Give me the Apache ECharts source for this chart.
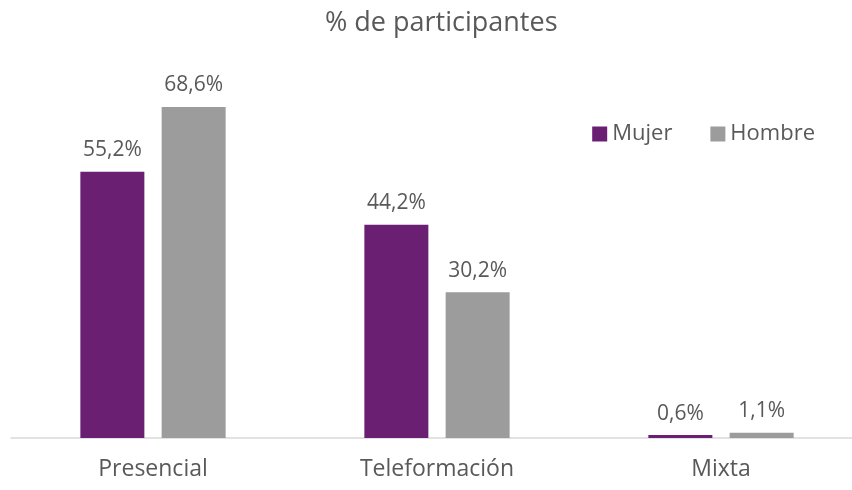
<!DOCTYPE html>
<html>
<head>
<meta charset="utf-8">
<script src="https://cdn.jsdelivr.net/npm/echarts@6/dist/echarts.min.js"></script>
<style>
  html, body { margin: 0; padding: 0; background: #fff; }
  #chart { width: 852px; height: 490px; }
</style>
</head>
<body>
<div id="chart"></div>
<script>
// datos del gráfico
const categories = ['Presencial', 'Teleformación', 'Mixta'];
const mujer = [55.2, 44.2, 0.6];
const hombre = [68.6, 30.2, 1.1];

const chart = echarts.init(document.getElementById('chart'));
const fontFamily = '"Open Sans", sans-serif';
const textColor = '#595959';

const labelFmt = p => p.value.toFixed(1).replace('.', ',') + '%';

const option = {
  animation: false,
  textStyle: { fontFamily: fontFamily },
  title: {
    text: '% de participantes',
    left: 320,
    top: 5,
    textStyle: { fontFamily: fontFamily, fontSize: 27, fontWeight: 'normal', color: textColor }
  },
  legend: {
    data: ['Mujer', 'Hombre'],
    right: 32,
    top: 118,
    itemWidth: 15,
    itemHeight: 15,
    itemGap: 38,
    icon: 'rect',
    textStyle: { fontFamily: fontFamily, fontSize: 22, color: textColor }
  },
  grid: {
    left: 11,
    width: 852,
    top: 52,
    bottom: 52,
    outerBoundsMode: 'none'
  },
  xAxis: {
    type: 'category',
    data: categories,
    axisTick: { show: false },
    axisLine: { lineStyle: { color: '#D9D9D9', width: 1.5 } },
    axisLabel: { fontFamily: fontFamily, fontSize: 23, color: textColor, margin: 20 }
  },
  yAxis: {
    type: 'value',
    min: 0,
    max: 80,
    show: false,
    splitLine: { show: false }
  },
  series: [
    {
      name: 'Mujer',
      type: 'bar',
      data: mujer,
      barWidth: 64,
      barGap: '27%',
      itemStyle: { color: '#6B1F73' },
      label: {
        show: true, position: 'top', distance: 11, formatter: labelFmt,
        fontFamily: fontFamily, fontSize: 21, color: textColor
      }
    },
    {
      name: 'Hombre',
      type: 'bar',
      data: hombre,
      barWidth: 64,
      itemStyle: { color: '#9C9C9C' },
      label: {
        show: true, position: 'top', distance: 11, formatter: labelFmt,
        fontFamily: fontFamily, fontSize: 21, color: textColor
      }
    }
  ]
};

chart.setOption(option);
</script>
</body>
</html>
